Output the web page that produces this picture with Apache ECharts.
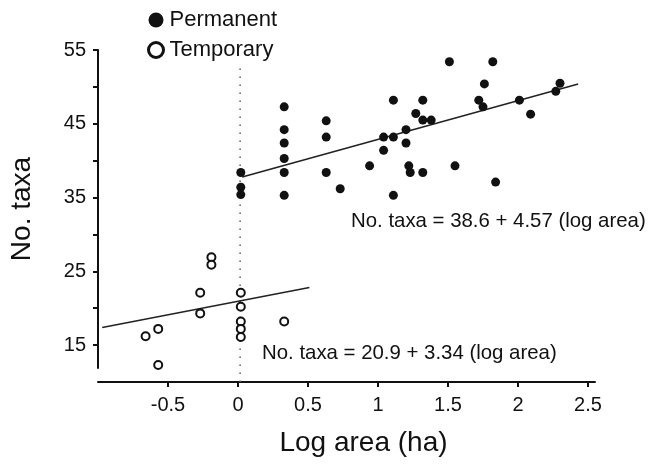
<!DOCTYPE html>
<html>
<head>
<meta charset="utf-8">
<script src="https://cdn.jsdelivr.net/npm/echarts@6/dist/echarts.min.js"></script>
<style>
  html, body { margin: 0; padding: 0; background: #fff; }
  #chart { width: 648px; height: 466px; }
</style>
</head>
<body>
<div id="chart"></div>
<script>
// permanent sites (log area, no. taxa)
const permX = [0.02, 0.02, 0.02, 0.33, 0.33, 0.33, 0.33, 0.33, 0.33, 0.63, 0.63, 0.63, 0.73, 0.94,
  1.04, 1.04, 1.11, 1.11, 1.11, 1.20, 1.20, 1.22, 1.23, 1.27, 1.32, 1.32, 1.38, 1.32,
  1.51, 1.82, 1.76, 1.72, 1.75, 2.01, 2.09, 2.30, 2.27, 1.55, 1.84];
const permY = [38.4, 36.4, 35.4, 47.3, 44.2, 42.4, 40.3, 38.4, 35.3, 45.4, 43.2, 38.4, 36.2, 39.3,
  43.2, 41.4, 48.2, 43.2, 35.3, 44.2, 42.4, 39.3, 38.4, 46.4, 48.2, 45.5, 45.5, 38.4,
  53.4, 53.4, 50.4, 48.2, 47.3, 48.2, 46.3, 50.5, 49.4, 39.3, 37.1];

// temporary sites
const tempX = [-0.66, -0.57, -0.57, -0.27, -0.27, -0.19, -0.19, 0.02, 0.02, 0.02, 0.02, 0.02, 0.33];
const tempY = [16.2, 17.2, 12.3, 22.1, 19.3, 26.9, 25.9, 22.1, 20.2, 18.2, 17.2, 16.1, 18.2];

// fitted lines (end points as drawn)
const permFitX = [0.03, 2.43];
const permFitY = [37.8, 50.4];
const tempFitX = [-0.97, 0.51];
const tempFitY = [17.4, 22.8];

// dotted reference line at log area = 0
const zeroX = [0.015, 0.015];
const zeroY = [52.5, 9.9];

const xTicks = [-0.5, 0, 0.5, 1, 1.5, 2, 2.5];
const yTicks = [15, 20, 25, 30, 35, 40, 45, 50, 55];
const yLabels = [15, 25, 35, 45, 55];

const permEq = 'No. taxa = 38.6 + 4.57 (log area)';
const tempEq = 'No. taxa = 20.9 + 3.34 (log area)';

const pairs = (xs, ys) => xs.map((x, i) => [x, ys[i]]);
const FONT = '"Liberation Sans", Arial, sans-serif';
const INK = '#111';

const myChart = echarts.init(document.getElementById('chart'), null, { renderer: 'canvas' });

const option = {
  animation: false,
  backgroundColor: '#fff',
  textStyle: { fontFamily: FONT, color: INK },
  grid: { left: 89, right: 53, top: 50, bottom: 98, containLabel: false },
  legend: {
    orient: 'vertical',
    left: 142,
    top: 4,
    itemWidth: 15,
    itemHeight: 15,
    itemGap: 8,
    icon: 'circle',
    textStyle: { fontFamily: FONT, fontSize: 22, color: INK, padding: [0, 0, 0, 1] },
    data: [
      { name: 'Permanent' },
      { name: 'Temporary', itemStyle: { color: '#fff', borderColor: INK, borderWidth: 3 } }
    ]
  },
  xAxis: {
    type: 'value',
    min: -1,
    max: 2.55,
    interval: 0.5,
    offset: 14,
    name: 'Log area (ha)',
    nameLocation: 'middle',
    nameGap: 47,
    nameTextStyle: { fontFamily: FONT, fontSize: 28, color: INK, padding: [0, 0, 0, 34] },
    axisLine: { onZero: false, lineStyle: { color: INK, width: 2 } },
    axisTick: { length: 5, lineStyle: { color: INK, width: 2 }, customValues: xTicks },
    axisLabel: {
      customValues: xTicks,
      fontFamily: FONT, fontSize: 20, color: INK, margin: 13,
      formatter: v => String(v)
    },
    splitLine: { show: false }
  },
  yAxis: {
    type: 'value',
    min: 11.9,
    max: 55,
    name: 'No. taxa',
    nameLocation: 'middle',
    nameGap: 62,
    nameTextStyle: { fontFamily: FONT, fontSize: 28, color: INK },
    axisLine: { onZero: false, lineStyle: { color: INK, width: 2 } },
    axisTick: { length: 5, lineStyle: { color: INK, width: 2 }, customValues: yTicks },
    axisLabel: {
      customValues: yLabels,
      fontFamily: FONT, fontSize: 20, color: INK, margin: 12
    },
    splitLine: { show: false }
  },
  graphic: [
    { type: 'text', left: 351, top: 211, style: { text: permEq, font: '20.4px ' + FONT, fill: INK } },
    { type: 'text', left: 262, top: 343, style: { text: tempEq, font: '20.4px ' + FONT, fill: INK } }
  ],
  series: [
    {
      name: 'zero',
      type: 'line',
      data: pairs(zeroX, zeroY),
      showSymbol: false,
      clip: false,
      silent: true,
      lineStyle: { color: '#666', width: 1.6, type: [1.6, 6.4] },
      z: 1
    },
    {
      name: 'permFit',
      type: 'line',
      data: pairs(permFitX, permFitY),
      showSymbol: false,
      silent: true,
      lineStyle: { color: '#222', width: 1.6 },
      z: 2
    },
    {
      name: 'tempFit',
      type: 'line',
      data: pairs(tempFitX, tempFitY),
      showSymbol: false,
      silent: true,
      lineStyle: { color: '#222', width: 1.6 },
      z: 2
    },
    {
      name: 'Permanent',
      type: 'scatter',
      data: pairs(permX, permY),
      symbol: 'circle',
      symbolSize: 9,
      itemStyle: { color: INK, opacity: 1 },
      z: 3
    },
    {
      name: 'Temporary',
      type: 'scatter',
      data: pairs(tempX, tempY),
      symbol: 'circle',
      symbolSize: 8,
      itemStyle: { color: '#fff', borderColor: INK, borderWidth: 2, opacity: 1 },
      z: 3
    }
  ]
};

myChart.setOption(option);
</script>
</body>
</html>
